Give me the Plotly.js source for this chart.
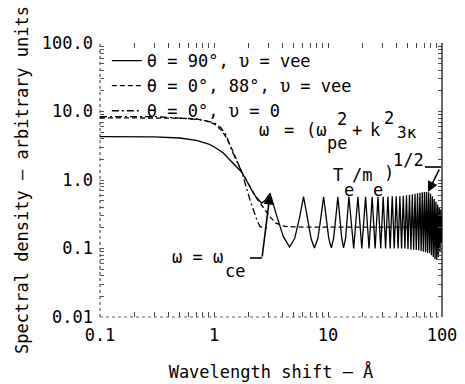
<!DOCTYPE html>
<html>
<head>
<meta charset="utf-8">
<script src="https://cdn.plot.ly/plotly-3.0.1.min.js"></script>
<style>html,body{margin:0;padding:0;background:#fff;}#chart{width:465px;height:384px;}</style>
</head>
<body>
<div id="chart"></div>
<script>
// ---- data ----
const seriesNames = ["θ = 90°, υ = vee", "θ = 0°, 88°, υ = vee", "θ = 0°, υ = 0"];

// θ = 90°, υ = vee (solid): smooth fall, then cyclotron-harmonic oscillations
const solidX = [0.1, 0.2, 0.3, 0.5, 0.7, 0.9, 1.0, 1.2, 1.38, 1.55, 1.75, 1.95, 2.15, 2.35, 2.5, 2.62, 2.8, 2.95, 3.1,
  3.55, 4.05, 4.6, 5.1, 5.6, 6.1,
  6.6, 7.1, 7.6, 8.15, 8.65, 9.15,
  9.65, 10.15, 10.7, 11.2, 11.7, 12.2,
  12.7, 13.2, 13.7, 14.25, 14.75, 15.25,
  16.8, 18.3, 19.8, 21.35, 22.9, 24.4, 25.9, 27.45, 29.0, 30.5, 32.0, 33.55, 35.1, 36.6, 38.1, 39.65,
  41.2, 42.7, 44.2, 45.75, 47.3, 48.8, 50.3, 51.85, 53.4, 54.9, 56.4, 57.95, 59.5, 61.0, 62.5, 64.05,
  65.6, 67.1, 68.6, 70.15, 71.7, 73.2, 74.7, 76.25, 77.8, 79.3, 80.8, 82.35, 83.9, 85.4, 86.9, 88.45,
  90.0, 91.5, 93.0, 94.55, 96.1, 97.6, 99.1, 100];
const solidY = [4.3, 4.3, 4.25, 4.1, 3.8, 3.35, 3.05, 2.5, 1.95, 1.6, 1.3, 0.95, 0.7, 0.56, 0.49, 0.46, 0.5, 0.57, 0.64,
  0.30, 0.15, 0.105, 0.14, 0.27, 0.57,
  0.28, 0.14, 0.102, 0.14, 0.28, 0.57,
  0.28, 0.14, 0.102, 0.14, 0.28, 0.57,
  0.28, 0.14, 0.102, 0.14, 0.28, 0.57,
  0.1, 0.57, 0.1, 0.57, 0.1, 0.57, 0.1, 0.57, 0.1, 0.57, 0.1, 0.57, 0.1, 0.58, 0.1, 0.58,
  0.1, 0.58, 0.1, 0.59, 0.1, 0.6, 0.098, 0.61, 0.097, 0.62, 0.096, 0.63, 0.095, 0.64, 0.094, 0.65,
  0.092, 0.66, 0.09, 0.67, 0.088, 0.67, 0.086, 0.66, 0.085, 0.63, 0.08, 0.58, 0.075, 0.53, 0.07, 0.48,
  0.068, 0.44, 0.075, 0.4, 0.09, 0.37, 0.12, 0.3];

// θ = 0°, 88°, υ = vee (dashed)
const dashX = [0.1, 0.3, 0.5, 0.7, 0.85, 1.0, 1.15, 1.28, 1.47, 1.75, 2.07, 2.35, 2.7, 3.1, 3.5, 4.2, 6, 10, 20, 40, 70, 100];
const dashY = [8.1, 8.1, 8.0, 7.8, 7.3, 6.6, 5.4, 4.2, 2.6, 1.32, 0.8, 0.55, 0.4, 0.29, 0.235, 0.21, 0.205, 0.205, 0.205, 0.205, 0.205, 0.205];

// θ = 0°, υ = 0 (dash-dot)
const dotdashX = [0.1, 0.3, 0.5, 0.7, 0.85, 1.0, 1.15, 1.28, 1.47, 1.75, 2.07, 2.4, 2.53, 2.7, 3.0];
const dotdashY = [8.4, 8.4, 8.0, 7.7, 7.3, 6.9, 5.8, 4.5, 2.45, 1.32, 0.51, 0.25, 0.21, 0.2, 0.2];

const xTickVals = [0.1, 0.2, 0.3, 0.4, 0.5, 0.6, 0.7, 0.8, 0.9, 1, 2, 3, 4, 5, 6, 7, 8, 9, 10, 20, 30, 40, 50, 60, 70, 80, 90, 100];
const xTickText = ["0.1", "", "", "", "", "", "", "", "", "1", "", "", "", "", "", "", "", "", "10", "", "", "", "", "", "", "", "", "100"];
const yTickVals = [0.01, 0.02, 0.03, 0.04, 0.05, 0.06, 0.07, 0.08, 0.09, 0.1, 0.2, 0.3, 0.4, 0.5, 0.6, 0.7, 0.8, 0.9, 1, 2, 3, 4, 5, 6, 7, 8, 9, 10, 20, 30, 40, 50, 60, 70, 80, 90, 100];
const yTickText = ["0.01", "", "", "", "", "", "", "", "", "0.1", "", "", "", "", "", "", "", "", "1.0", "", "", "", "", "", "", "", "", "10.0", "", "", "", "", "", "", "", "", "100.0"];

// ---- layout helpers (pixel -> paper) ----
const L = 100, R = 442, T = 43, B = 317;
const px = v => (v - L) / (R - L);
const py = v => (B - v) / (B - T);
const FONT = "DejaVu Sans Mono";
const INK = "#000";

const traces = [
  {x: solidX, y: solidY, name: seriesNames[0], mode: "lines",
   line: {color: INK, width: 1.3}},
  {x: dashX, y: dashY, name: seriesNames[1], mode: "lines",
   line: {color: INK, width: 1.3, dash: "5px,3px"}},
  {x: dotdashX, y: dotdashY, name: seriesNames[2], mode: "lines",
   line: {color: INK, width: 1.3, dash: "7px,3px,2px,3px"}}
];

function txt(t, x, y, size, xanchor) {
  return {text: t, x: px(x), y: py(y), xref: "paper", yref: "paper", showarrow: false,
          xanchor: xanchor || "left", yanchor: "middle", font: {family: FONT, size: size || 17, color: INK}};
}

const annotations = [
  txt("ω", 257, 130),
  txt("=", 282, 130),
  txt("(ω", 304, 130),
  txt("2", 342, 119, 17, "center"),
  txt("pe", 337, 143, 17, "center"),
  txt("+", 350, 130),
  txt("k", 368, 130),
  txt("2", 389, 118, 17, "center"),
  txt("3κ", 395, 132, 16),
  txt("T", 331, 175),
  txt("e", 342, 190),
  txt("/m", 350, 175),
  txt("e", 371, 190),
  txt(")", 382, 173),
  txt("1/2", 391, 160),
  txt("ω = ω", 170, 257),
  txt("ce", 223, 271),
  {x: px(270), y: py(194), xref: "paper", yref: "paper", text: "", showarrow: true,
   ax: -8, ay: 64, arrowhead: 2, arrowsize: 1.3, arrowwidth: 1.6, arrowcolor: INK},
  {x: px(428), y: py(192), xref: "paper", yref: "paper", text: "", showarrow: true,
   ax: 12, ay: -24, arrowhead: 2, arrowsize: 1.3, arrowwidth: 1.6, arrowcolor: INK}
];

const shapes = [
  {type: "line", xref: "paper", yref: "paper", x0: 0, x1: 0, y0: 0, y1: 1, line: {color: "#333", width: 1, dash: "dot"}},
  {type: "line", xref: "paper", yref: "paper", x0: 0, x1: 1, y0: 0, y1: 0, line: {color: "#666", width: 1, dash: "dot"}},
  {type: "line", xref: "paper", yref: "paper", x0: 1, x1: 1, y0: 0, y1: 1, line: {color: INK, width: 1.2}},
  {type: "line", xref: "paper", yref: "paper", x0: px(250), x1: px(262), y0: py(258), y1: py(258), line: {color: INK, width: 1.6}},
  {type: "line", xref: "paper", yref: "paper", x0: px(425), x1: px(441), y0: py(167), y1: py(167), line: {color: INK, width: 1.6}}
];

const layout = {
  width: 465, height: 384,
  margin: {l: L, r: 465 - R, t: T, b: 384 - B, pad: 0},
  paper_bgcolor: "#fff", plot_bgcolor: "#fff",
  font: {family: FONT, size: 17, color: INK},
  showlegend: true,
  legend: {x: 0.02, y: 1.0, xanchor: "left", yanchor: "top", bgcolor: "rgba(0,0,0,0)",
           font: {family: FONT, size: 17, color: INK}, tracegroupgap: 0, itemwidth: 30},
  xaxis: {type: "log", range: [-1, 2], showgrid: false, zeroline: false, showline: false,
          tickvals: xTickVals, ticktext: xTickText, ticks: "inside", ticklen: 5, tickwidth: 1,
          tickcolor: "#444", mirror: "ticks", ticklabelstandoff: 6,
          tickfont: {family: FONT, size: 17, color: INK},
          title: {text: "Wavelength shift — Å", font: {family: FONT, size: 17, color: INK}, standoff: 22}},
  yaxis: {type: "log", range: [-2, 2], showgrid: false, zeroline: false, showline: false,
          tickvals: yTickVals, ticktext: yTickText, ticks: "inside", ticklen: 4, tickwidth: 1,
          tickcolor: "#555", mirror: "ticks", ticklabelstandoff: 6,
          tickfont: {family: FONT, size: 17, color: INK},
          title: {text: "Spectral density – arbitrary units", font: {family: FONT, size: 17, color: INK}, standoff: 8}},
  annotations: annotations,
  shapes: shapes
};

Plotly.newPlot("chart", traces, layout, {staticPlot: true, displayModeBar: false});
</script>
</body>
</html>
